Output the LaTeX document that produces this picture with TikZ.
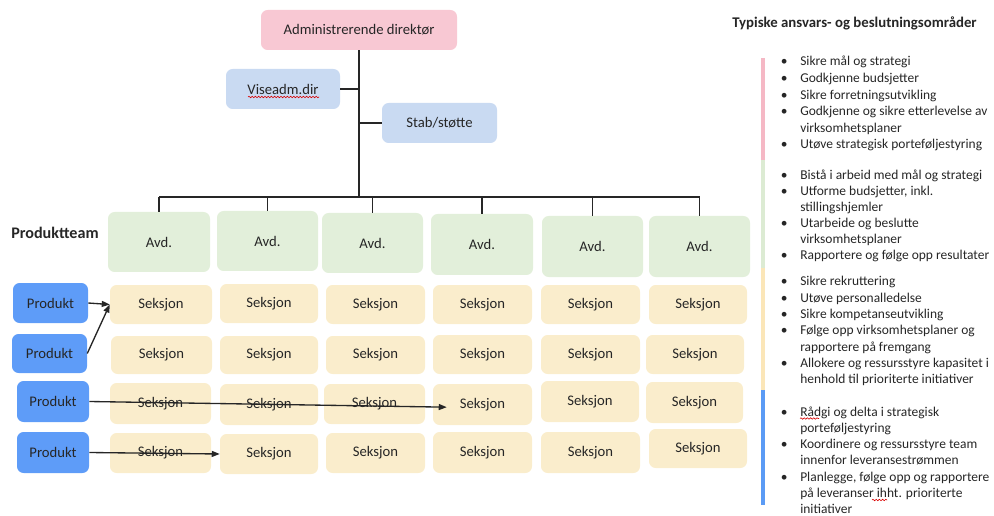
\documentclass[tikz,border=0pt]{standalone}
\usepackage{fontspec}
\setmainfont{Carlito}
\usetikzlibrary{arrows.meta,decorations.pathmorphing}

\definecolor{txt}{HTML}{262626}
\definecolor{admpink}{HTML}{F8C8D3}
\definecolor{staffblue}{HTML}{C9DAF2}
\definecolor{avdgreen}{HTML}{E2EFDA}
\definecolor{seksgold}{HTML}{FAEDCC}
\definecolor{prodblue}{HTML}{5E9CF8}
\definecolor{barpink}{HTML}{F5B8C5}
\definecolor{bargreen}{HTML}{DCEBD3}
\definecolor{baryellow}{HTML}{FBE6B8}
\definecolor{barblue}{HTML}{5B9BF5}

% box given by its corners (x1,y1)-(x2,y2) in pixel units
\newcommand\orgbox[7]{%
  \node[#1, minimum width={(#5-#3)*0.75pt}, minimum height={(#6-#4)*0.75pt}]
    (#2) at ({(#3+#5)/2},{(#4+#6)/2}) {#7};}
\newcommand\bul{\llap{\textbullet\hspace{9.5pt}}}

\begin{document}
\begin{tikzpicture}[x=0.75pt,y=-0.75pt,
  orgnode/.style={rounded corners=5pt, inner sep=0pt, text=txt,
    font=\fontsize{11}{13}\selectfont},
  topbox/.style={orgnode, fill=admpink},
  staffbox/.style={orgnode, fill=staffblue},
  avdbox/.style={orgnode, fill=avdgreen},
  seksbox/.style={orgnode, fill=seksgold},
  prodbox/.style={orgnode, fill=prodblue},
  conn/.style={draw=black!85, line width=1pt},
  arr/.style={conn, -{Triangle[length=6pt,width=4.5pt]}},
  item/.style={anchor=base west, inner sep=0pt, text=txt,
    font=\fontsize{10.1}{12}\selectfont},
  heading/.style={anchor=base west, inner sep=0pt, text=txt,
    font=\fontsize{11.1}{13}\selectfont\bfseries},
  rolebar/.style={line width=2.3pt},
  spell/.style={draw=red!85!black, line width=0.45pt, decorate,
    decoration={snake, amplitude=0.55pt, segment length=2.4pt}},
]
\useasboundingbox (0,0) rectangle (994,516);

% management and staff
\orgbox{topbox}{adm}{261}{10}{457}{50}{Administrerende direktør}
\orgbox{staffbox}{vise}{226}{69}{340}{109}{Viseadm.dir}
\orgbox{staffbox}{stab}{382}{103}{497}{143}{Stab/støtte}

% departments
\orgbox{avdbox}{avd1}{108}{212}{210}{272}{Avd.}
\orgbox{avdbox}{avd2}{217}{211}{318}{271}{Avd.}
\orgbox{avdbox}{avd3}{322}{213}{423}{273}{Avd.}
\orgbox{avdbox}{avd4}{431}{214}{533}{275}{Avd.}
\orgbox{avdbox}{avd5}{542}{216}{643}{277}{Avd.}
\orgbox{avdbox}{avd6}{649}{216}{750}{277}{Avd.}

% sections, row by row
\orgbox{seksbox}{s11}{110}{285}{212}{324}{Seksjon}
\orgbox{seksbox}{s12}{220}{284}{318}{323}{Seksjon}
\orgbox{seksbox}{s13}{326}{285}{425}{324}{Seksjon}
\orgbox{seksbox}{s14}{433}{285}{532}{324}{Seksjon}
\orgbox{seksbox}{s15}{541}{285}{640}{324}{Seksjon}
\orgbox{seksbox}{s16}{649}{285}{747}{324}{Seksjon}

\orgbox{seksbox}{s21}{111}{336}{212}{374}{Seksjon}
\orgbox{seksbox}{s22}{220}{336}{318}{374}{Seksjon}
\orgbox{seksbox}{s23}{326}{336}{425}{374}{Seksjon}
\orgbox{seksbox}{s24}{433}{335}{532}{374}{Seksjon}
\orgbox{seksbox}{s25}{541}{335}{640}{374}{Seksjon}
\orgbox{seksbox}{s26}{646}{335}{744}{374}{Seksjon}

\orgbox{seksbox}{s31}{110}{383}{211}{424}{Seksjon}
\orgbox{seksbox}{s32}{220}{384}{318}{425}{Seksjon}
\orgbox{seksbox}{s33}{324}{384}{425}{424}{Seksjon}
\orgbox{seksbox}{s34}{433}{384}{532}{425}{Seksjon}
\orgbox{seksbox}{s35}{541}{381}{639}{422}{Seksjon}
\orgbox{seksbox}{s36}{646}{382}{743}{423}{Seksjon}

\orgbox{seksbox}{s41}{110}{433}{211}{473}{Seksjon}
\orgbox{seksbox}{s42}{220}{434}{318}{474}{Seksjon}
\orgbox{seksbox}{s43}{326}{433}{425}{473}{Seksjon}
\orgbox{seksbox}{s44}{433}{432}{532}{473}{Seksjon}
\orgbox{seksbox}{s45}{541}{432}{640}{473}{Seksjon}
\orgbox{seksbox}{s46}{649}{429}{747}{468}{Seksjon}

% product teams
\node[anchor=west, inner sep=0pt, text=txt, font=\fontsize{12.1}{14}\selectfont\bfseries]
  (team) at (11,233) {Produktteam};
\orgbox{prodbox}{p1}{13}{283}{88}{323}{Produkt}
\orgbox{prodbox}{p2}{12}{334}{87}{373}{Produkt}
\orgbox{prodbox}{p3}{17}{381}{89}{422}{Produkt}
\orgbox{prodbox}{p4}{17}{432}{89}{473}{Produkt}

% reporting lines
\coordinate (bus) at (359,197);
\draw[conn] (adm.south) -- (bus);
\draw[conn] (vise.east) -- (vise.east -| adm.south);
\draw[conn] (stab.west) -- (stab.west -| adm.south);
\draw[conn] (avd1.north |- bus) -- (avd6.north |- bus);
\foreach \k in {1,...,6}{
  \draw[conn] (avd\k.north) -- (avd\k.north |- bus);
}

% product assignments
\draw[arr] (p1.east) -- (s11.west);
\draw[arr] (p2.east) -- (s11.west);
\draw[arr] (p3.east) -- ([xshift=10.5pt,yshift=-2pt]s34.west);
\draw[arr] (p4.east) -- (s42.west);

% spelling marks
\draw[spell] (vise.center) ++(-35,8) -- ++(71,0);

% responsibilities
\node[heading] (head) at (732,27.5) {Typiske ansvars- og beslutningsområder};

\node[item] (g1a) at (800,66) {\bul Sikre mål og strategi};
\node[item] (g1b) at (800,82.6) {\bul Godkjenne budsjetter};
\node[item] (g1c) at (800,99.2) {\bul Sikre forretningsutvikling};
\node[item] (g1d) at (800,115.8) {\bul Godkjenne og sikre etterlevelse av};
\node[item] (g1e) at (800,132.4) {virksomhetsplaner};
\node[item] (g1f) at (800,149) {\bul Utøve strategisk porteføljestyring};

\node[item] (g2a) at (800,180) {\bul Bistå i arbeid med mål og strategi};
\node[item] (g2b) at (800,196) {\bul Utforme budsjetter, inkl.};
\node[item] (g2c) at (800,212) {stillingshjemler};
\node[item] (g2d) at (800,228) {\bul Utarbeide og beslutte};
\node[item] (g2e) at (800,244) {virksomhetsplaner};
\node[item] (g2f) at (800,260) {\bul Rapportere og følge opp resultater};

\node[item] (g3a) at (800,286) {\bul Sikre rekruttering};
\node[item] (g3b) at (800,302.3) {\bul Utøve personalledelse};
\node[item] (g3c) at (800,318.6) {\bul Sikre kompetanseutvikling};
\node[item] (g3d) at (800,334.9) {\bul Følge opp virksomhetsplaner og};
\node[item] (g3e) at (800,351.2) {rapportere på fremgang};
\node[item] (g3f) at (800,367.5) {\bul Allokere og ressursstyre kapasitet i};
\node[item] (g3g) at (800,383.8) {henhold til prioriterte initiativer};

\node[item] (g4a) at (800,416) {\bul Rådgi og delta i strategisk};
\node[item] (g4b) at (800,432.3) {porteføljestyring};
\node[item] (g4c) at (800,448.6) {\bul Koordinere og ressursstyre team};
\node[item] (g4d) at (800,464.9) {innenfor leveransestrømmen};
\node[item] (g4e) at (800,481.2) {\bul Planlegge, følge opp og rapportere};
\node[item] (g4f) at (800,497.5) {på leveranser ihht. prioriterte};
\node[item] (g4g) at (800,513.4) {initiativer};

\draw[spell] (g4a.base west) ++(0,2.5) -- ++(19,0);
\draw[spell] (g4f.base west) ++(72,2.5) -- ++(15,0);

% coloured level markers
\draw[rolebar, barpink] (763,58) -- (763,160);
\draw[rolebar, bargreen] (763,160) -- (763,268);
\draw[rolebar, baryellow] (763,268) -- (763,390);
\draw[rolebar, barblue] (763,390) -- (763,505);
\end{tikzpicture}
\end{document}
